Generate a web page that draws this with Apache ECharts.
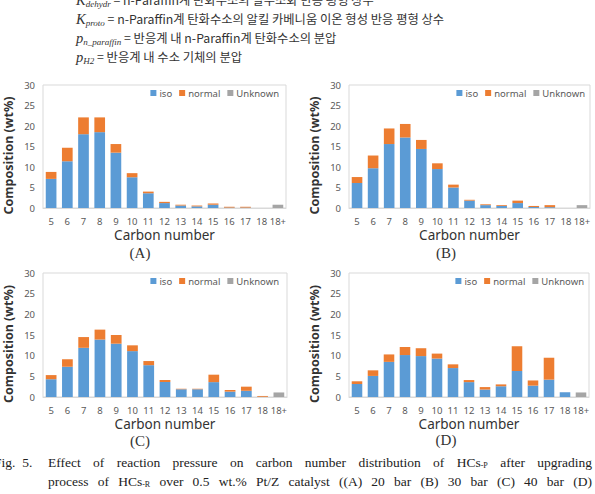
<!DOCTYPE html>
<html>
<head>
<meta charset="utf-8">
<script src="https://cdn.jsdelivr.net/npm/echarts@6/dist/echarts.min.js"></script>
<style>
body { margin: 0; background: #fff; }
#page { position: relative; width: 595px; height: 494px; overflow: hidden; background: #fff; }
#chart { position: absolute; left: 0; top: 0; width: 595px; height: 494px; }
.txt { position: absolute; white-space: nowrap; font-family: "Noto Sans CJK KR", sans-serif; font-size: 12.3px; line-height: 18px; color: #333; }
.txt i { font-family: "Liberation Serif", serif; font-size: 14.5px; }
.txt sub { font-family: "Liberation Serif", serif; font-style: italic; font-size: 9px; vertical-align: -2px; }
.cap { position: absolute; font-family: "Liberation Serif", serif; font-size: 13.5px; line-height: 16px; color: #222; white-space: nowrap; }
.just { text-align: justify; text-align-last: justify; white-space: normal; }
.cap sub { font-size: 8px; vertical-align: -1px; line-height: 0; }
.lab { position: absolute; font-family: "Liberation Serif", serif; font-size: 15px; line-height: 15px; color: #333; transform: translate(-50%, -50%); }
</style>
</head>
<body>
<div id="page">
  <div class="txt" style="left:76px; top:-9px;"><i>K</i><sub>dehydr</sub> = n-Paraffin계 탄화수소의 탈수소화 반응 평형 상수</div>
  <div class="txt" style="left:76px; top:10px;"><i>K</i><sub>proto</sub> = n-Paraffin계 탄화수소의 알킬 카베니움 이온 형성 반응 평형 상수</div>
  <div class="txt" style="left:76px; top:29px;"><i>p</i><sub>n_paraffin</sub> = 반응계 내 n-Paraffin계 탄화수소의 분압</div>
  <div class="txt" style="left:76px; top:48px;"><i>p</i><sub>H2</sub> = 반응계 내 수소 기체의 분압</div>
  <div id="chart"></div>
  <div class="lab" style="left:140px; top:253px;">(A)</div>
  <div class="lab" style="left:446px; top:253px;">(B)</div>
  <div class="lab" style="left:140px; top:441px;">(C)</div>
  <div class="lab" style="left:446px; top:440px;">(D)</div>
  <div class="cap" style="left:-6px; top:455px;">Fig.&nbsp;&nbsp;5.</div>
  <div class="cap just" style="left:48px; top:455px; width:544px;">Effect of reaction pressure on carbon number distribution of HCs<sub>-P</sub> after upgrading</div>
  <div class="cap just" style="left:48px; top:474px; width:544px;">process of HCs<sub>-R</sub> over 0.5 wt.% Pt/Z catalyst ((A) 20 bar (B) 30 bar (C) 40 bar (D)</div>
</div>
<script>
var carbonNumbers = ['5', '6', '7', '8', '9', '10', '11', '12', '13', '14', '15', '16', '17', '18', '18+']
var seriesNames = ['iso', 'normal', 'Unknown']

// (A) 20 bar
var isoA = [7.1, 11.4, 18.0, 18.5, 13.5, 7.5, 3.6, 1.2, 0.6, 0.4, 0.8, 0.1, 0.1, 0, 0]
var normalA = [1.7, 3.3, 4.1, 3.6, 2.1, 1.0, 0.4, 0.3, 0.2, 0.2, 0.3, 0.2, 0.2, 0, 0]
var unknownA = [0, 0, 0, 0, 0, 0, 0, 0, 0, 0, 0, 0, 0, 0, 0.8]
// (B) 30 bar
var isoB = [6.1, 9.7, 15.6, 17.2, 14.4, 9.5, 5.0, 1.8, 0.7, 0.5, 1.2, 0.25, 0.2, 0, 0]
var normalB = [1.45, 3.1, 3.8, 3.3, 2.2, 1.4, 0.7, 0.2, 0.2, 0.2, 0.6, 0.25, 0.5, 0, 0]
var unknownB = [0, 0, 0, 0, 0, 0, 0, 0, 0, 0, 0, 0, 0, 0, 0.7]
// (C) 40 bar
var isoC = [4.3, 7.3, 11.9, 13.9, 12.9, 11.1, 7.7, 3.6, 1.85, 1.85, 3.6, 1.3, 1.5, 0.05, 0]
var normalC = [1.0, 1.85, 2.6, 2.4, 2.1, 1.4, 1.0, 0.5, 0.15, 0.15, 1.8, 0.4, 1.0, 0.2, 0]
var unknownC = [0, 0, 0, 0, 0, 0, 0, 0, 0, 0, 0, 0, 0, 0, 1.1]
// (D)
var isoD = [3.15, 5.1, 8.5, 10.15, 9.9, 9.3, 7.0, 3.6, 1.8, 2.6, 6.3, 2.75, 4.2, 1.15, 0]
var normalD = [0.65, 1.35, 1.8, 1.95, 1.9, 1.2, 0.9, 0.5, 0.6, 0.45, 5.95, 1.25, 5.3, 0, 0]
var unknownD = [0, 0, 0, 0, 0, 0, 0, 0, 0, 0, 0, 0, 0, 0, 1.1]

var yTicks = [0, 5, 10, 15, 20, 25, 30]

var panels = [
    [isoA, normalA, unknownA],
    [isoB, normalB, unknownB],
    [isoC, normalC, unknownC],
    [isoD, normalD, unknownD]
]
var colors = ['#5b9bd5', '#ed7d31', '#a5a5a5']

var grids = [
    { left: 43, top: 85, width: 243, height: 123 },
    { left: 349, top: 85, width: 241, height: 123 },
    { left: 43, top: 273, width: 244, height: 124 },
    { left: 349, top: 273, width: 240, height: 124 }
]
var legendPos = [
    { right: 316, top: 88 },
    { right: 10, top: 88 },
    { right: 316, top: 276 },
    { right: 11, top: 276 }
]

var font = '"Noto Sans", sans-serif'
var option = {
    animation: false,
    color: colors,
    grid: [],
    xAxis: [],
    yAxis: [],
    legend: [],
    series: []
}

for (var i = 0; i < panels.length; i++) {
    var g = grids[i]
    option.grid.push({
        left: g.left, top: g.top, width: g.width, height: g.height,
        show: true, borderColor: '#d9d9d9', borderWidth: 1
    })
    option.xAxis.push({
        type: 'category',
        gridIndex: i,
        data: carbonNumbers,
        name: 'Carbon number',
        nameLocation: 'middle',
        nameGap: 20,
        nameTextStyle: { fontFamily: font, fontSize: 13.5, lineHeight: 14, color: '#333' },
        axisLine: { lineStyle: { color: '#d9d9d9' } },
        axisTick: { show: false },
        axisLabel: { fontFamily: font, fontSize: 9.5, lineHeight: 10, color: '#595959', margin: 8, interval: 0 }
    })
    option.yAxis.push({
        type: 'value',
        gridIndex: i,
        min: yTicks[0],
        max: yTicks[yTicks.length - 1],
        interval: 5,
        name: 'Composition (wt%)',
        nameLocation: 'middle',
        nameGap: 28,
        nameTextStyle: { fontFamily: font, fontSize: 12.5, fontWeight: 'bold', color: '#333', padding: [0, 18, 0, 0] },
        splitLine: { show: false },
        axisLine: { show: false },
        axisTick: { show: false },
        axisLabel: { fontFamily: font, fontSize: 9.5, color: '#595959', margin: 8 }
    })
    option.legend.push({
        data: seriesNames,
        right: legendPos[i].right,
        top: legendPos[i].top,
        padding: 0,
        itemWidth: 6,
        itemHeight: 6,
        itemGap: 7,
        icon: 'rect',
        textStyle: { fontFamily: font, fontSize: 9.5, color: '#595959', padding: [0, 0, 0, -2] }
    })
    for (var s = 0; s < seriesNames.length; s++) {
        option.series.push({
            name: seriesNames[s],
            type: 'bar',
            stack: 'p' + i,
            xAxisIndex: i,
            yAxisIndex: i,
            barCategoryGap: '34%',
            data: panels[i][s],
            itemStyle: { color: colors[s] }
        })
    }
}

var chart = echarts.init(document.getElementById('chart'), null, { renderer: 'svg' })
chart.setOption(option)
</script>
</body>
</html>
